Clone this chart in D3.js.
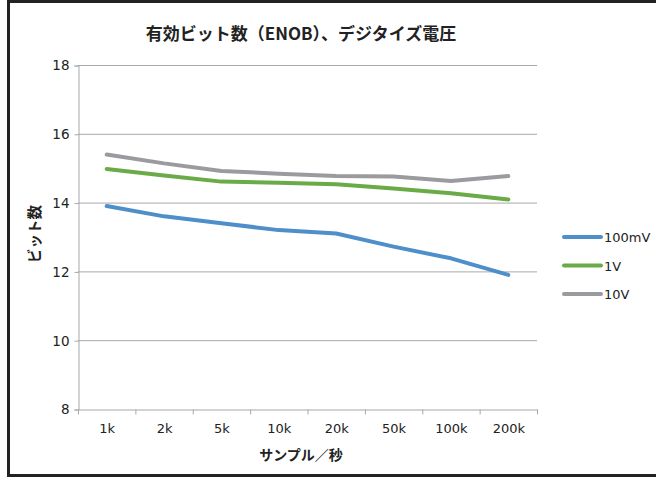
<!DOCTYPE html>
<html>
<head>
<meta charset="utf-8">
<script src="https://cdn.jsdelivr.net/npm/d3@7"></script>
<style>
body { margin: 0; background: #fff; }
text { font-family: "DejaVu Sans", "Noto Sans CJK JP", sans-serif; fill: #222; }
.jp { font-family: "Noto Sans CJK JP", sans-serif; font-weight: bold; }
</style>
</head>
<body>
<div id="chart"></div>
<script>
var W = 656, H = 477;

// data
var categories = ["1k", "2k", "5k", "10k", "20k", "50k", "100k", "200k"];
var seriesNames = ["100mV", "1V", "10V"];
var v100mV = [13.9, 13.6, 13.4, 13.2, 13.1, 12.72, 12.38, 11.9];
var v1V = [14.98, 14.79, 14.61, 14.58, 14.53, 14.41, 14.27, 14.09];
var v10V = [15.4, 15.14, 14.92, 14.84, 14.77, 14.76, 14.63, 14.77];
var yTicks = [8, 10, 12, 14, 16, 18];
var colors = ["#4e8fca", "#6aab48", "#9b9b9f"];

var allSeries = [v100mV, v1V, v10V];

var margin = {t: 65, l: 78, r: 119, b: 68};
var width = W - margin.l - margin.r,
    height = H - margin.t - margin.b;

var svg = d3.select('#chart').append('svg')
    .attr('width', W).attr('height', H);

// frame (no right edge visible in the picture)
svg.append('rect').attr('x', 8.5).attr('y', 1.5).attr('width', W + 10).attr('height', 474)
    .attr('fill', 'none').attr('stroke', '#222').attr('stroke-width', 3);

var x = d3.scaleBand().domain(categories).range([0, width]);
var y = d3.scaleLinear().domain([8, 18]).range([height, 0]);

var plot = svg.append('g').attr('transform', 'translate(' + margin.l + ',' + margin.t + ')');

// gridlines
plot.append('g').selectAll('line').data(yTicks.slice(1)).enter().append('line')
    .attr('x1', 0).attr('x2', width)
    .attr('y1', function(d){ return y(d) + 0.5; }).attr('y2', function(d){ return y(d) + 0.5; })
    .attr('stroke', '#a8a8a8').attr('stroke-width', 1);

// y axis
var yAxis = plot.append('g').attr('transform', 'translate(0.5,0.5)')
    .call(d3.axisLeft(y).tickValues(yTicks).tickSize(4).tickPadding(5));
yAxis.select('.domain').attr('stroke', '#a8a8a8');
yAxis.selectAll('.tick line').attr('stroke', '#a8a8a8');
yAxis.selectAll('text').attr('font-size', 13.5).style('font-family', '"DejaVu Sans", sans-serif');

// x axis
var xAxis = plot.append('g').attr('transform', 'translate(0.5,' + (height + 0.5) + ')')
    .call(d3.axisBottom(x).tickSize(0).tickPadding(14));
xAxis.select('.domain').attr('stroke', '#a8a8a8');
xAxis.selectAll('text').attr('font-size', 13).style('font-family', '"DejaVu Sans", sans-serif');
// category boundary ticks
var bounds = categories.map(function(c){ return x(c); }).concat([width]);
xAxis.selectAll('.bnd').data(bounds).enter().append('line')
    .attr('x1', function(d){ return d; }).attr('x2', function(d){ return d; })
    .attr('y1', 0).attr('y2', 5).attr('stroke', '#a8a8a8');

// lines
var line = d3.line()
    .x(function(d, i){ return x(categories[i]) + x.bandwidth() / 2; })
    .y(function(d){ return y(d); });

plot.selectAll('.series').data(allSeries).enter().append('path')
    .attr('d', line)
    .attr('fill', 'none')
    .attr('stroke', function(d, i){ return colors[i]; })
    .attr('stroke-width', 4)
    .attr('stroke-linejoin', 'round')
    .attr('stroke-linecap', 'round');

// titles
svg.append('text').attr('class', 'jp').attr('x', 301).attr('y', 40)
    .attr('text-anchor', 'middle').attr('font-size', 17)
    .text('有効ビット数（ENOB）、デジタイズ電圧');

svg.append('text').attr('class', 'jp').attr('x', 301).attr('y', 459.5)
    .attr('text-anchor', 'middle').attr('font-size', 14)
    .text('サンプル／秒');

svg.append('text').attr('class', 'jp')
    .attr('transform', 'translate(40,234) rotate(-90)')
    .attr('text-anchor', 'middle').attr('font-size', 14.5)
    .text('ビット数');

// legend
var legend = svg.append('g').attr('transform', 'translate(564,237)');
var items = legend.selectAll('g').data(seriesNames).enter().append('g')
    .attr('transform', function(d, i){ return 'translate(0,' + (i * 28.5) + ')'; });
items.append('line').attr('x1', 0).attr('x2', 37).attr('y1', 0).attr('y2', 0)
    .attr('stroke', function(d, i){ return colors[i]; })
    .attr('stroke-width', 4).attr('stroke-linecap', 'round');
items.append('text').attr('x', 40).attr('y', 5).attr('font-size', 13)
    .text(function(d){ return d; });
</script>
</body>
</html>
